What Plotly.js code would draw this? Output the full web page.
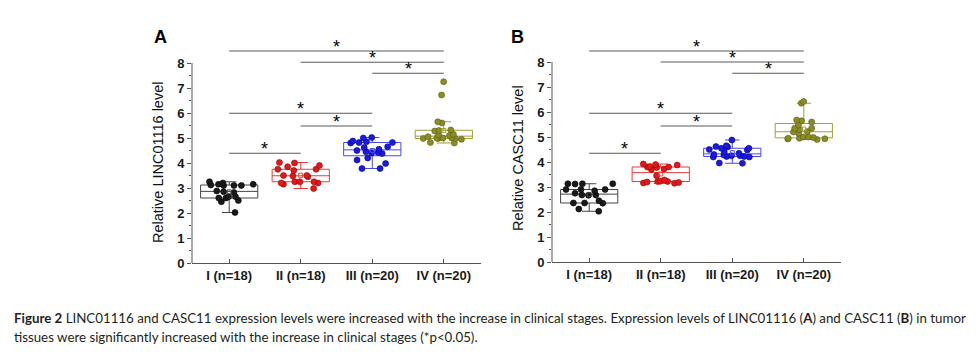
<!DOCTYPE html>
<html>
<head>
<meta charset="utf-8">
<script src="https://cdn.plot.ly/plotly-3.0.1.min.js"></script>
<style>html,body{margin:0;padding:0;background:#fff;}#chart{width:978px;height:355px;}</style>
</head>
<body>
<div id="chart"></div>
<script>
// ---- data ----
const categories = ['I (n=18)', 'II (n=18)', 'III (n=20)', 'IV (n=20)'];

const lincI   = [3.25, 3.12, 3.1, 3.15, 3.1, 3.1, 3.15, 3.2, 2.88, 2.85, 2.82, 2.65, 2.5, 2.6, 2.6, 2.65, 2.45, 2.02];
const lincII  = [4.02, 4.0, 3.9, 3.85, 3.75, 3.7, 3.75, 3.5, 3.45, 3.48, 3.5, 3.25, 3.25, 3.2, 3.2, 3.15, 3.25, 2.98];
const lincIII = [4.85, 4.82, 4.8, 5.0, 5.02, 4.82, 4.88, 4.62, 4.55, 4.65, 4.5, 4.4, 4.38, 4.45, 4.42, 4.2, 4.12, 3.98, 3.78, 3.78];
const lincIV  = [7.25, 6.72, 5.65, 5.6, 5.32, 5.3, 5.28, 5.15, 5.1, 5.05, 5.12, 5.0, 4.98, 5.0, 4.98, 5.0, 4.95, 4.98, 4.82, 4.8];

const cascI   = [3.13, 3.13, 3.12, 3.13, 2.9, 2.9, 2.85, 2.9, 2.75, 2.68, 2.67, 2.68, 2.45, 2.36, 2.35, 2.36, 2.12, 2.03];
const cascII  = [3.9, 3.82, 3.78, 3.7, 3.72, 3.8, 3.8, 3.88, 3.92, 3.45, 3.28, 3.23, 3.2, 3.16, 3.15, 3.18, 3.22, 3.22];
const cascIII = [4.88, 4.62, 4.55, 4.5, 4.48, 4.55, 4.6, 4.65, 4.4, 4.3, 4.25, 4.22, 4.2, 4.2, 4.22, 4.25, 4.28, 4.35, 3.96, 3.95];
const cascIV  = [6.42, 6.35, 5.65, 5.68, 5.6, 5.48, 5.35, 5.3, 5.22, 5.15, 5.2, 5.35, 5.0, 5.0, 4.98, 4.95, 4.92, 4.9, 4.93, 4.95];

const yTickVals = [0, 1, 2, 3, 4, 5, 6, 7, 8];
// significance comparisons (group index pairs), label
const comparisons = [[0, 3], [1, 3], [2, 3], [0, 2], [1, 2], [0, 1]];
const sigLabel = '*';

const captionLine1 = '<b>Figure 2</b> LINC01116 and CASC11 expression levels were increased with the increase in clinical stages. Expression levels of LINC01116 (<b>A</b>) and CASC11 (<b>B</b>) in tumor';
const captionLine2 = 'tissues were significantly increased with the increase in clinical stages (*p&lt;0.05).';

// ---- styles ----
const pointColors = ['#1a1a1a', '#e01a1a', '#1a1ae0', '#8c8c26'];
const pointEdge   = ['#000000', '#a00000', '#0000a0', '#5c5c10'];
const boxColors   = ['#444444', '#e83c3c', '#4848e6', '#a0a03c'];
const bracketH = {A: [8.48, 8.03, 7.59, 5.99, 5.48, 4.39], B: [8.44, 8.0, 7.55, 5.95, 5.44, 4.35]};
const FONT = 'Liberation Sans, Arial, sans-serif';

const traces = [];
const annotations = [];

function mean(a) { return a.reduce((s, v) => s + v, 0) / a.length; }

function addPanel(groups, xa, ya, heights) {
  groups.forEach((vals, i) => {
    traces.push({
      type: 'box', y: vals, name: categories[i], xaxis: xa, yaxis: ya,
      boxpoints: 'all', jitter: 0.95, pointpos: 0, width: 0.8, whiskerwidth: 0.25,
      fillcolor: 'rgba(0,0,0,0)', line: {color: boxColors[i], width: 1},
      marker: {color: pointColors[i], size: 6, line: {color: pointEdge[i], width: 0.6}},
      showlegend: false, hoverinfo: 'y'
    });
    traces.push({
      type: 'scatter', mode: 'markers', x: [categories[i]], y: [mean(vals)], xaxis: xa, yaxis: ya,
      marker: {symbol: 'square-open', size: 4, color: boxColors[i], line: {width: 1}},
      showlegend: false, hoverinfo: 'skip'
    });
  });
  comparisons.forEach((c, k) => {
    const h = heights[k];
    traces.push({
      type: 'scatter', mode: 'lines', x: [categories[c[0]], categories[c[1]]], y: [h, h],
      xaxis: xa, yaxis: ya, line: {color: '#5a5a5a', width: 1.2},
      showlegend: false, hoverinfo: 'skip'
    });
    annotations.push({
      xref: xa, yref: ya, x: (c[0] + c[1]) / 2, y: h, text: sigLabel, showarrow: false,
      yanchor: 'bottom', yshift: -8, font: {family: FONT, size: 18, color: '#000'}
    });
  });
}

addPanel([lincI, lincII, lincIII, lincIV], 'x', 'y', bracketH.A);
addPanel([cascI, cascII, cascIII, cascIV], 'x2', 'y2', bracketH.B);

const tickFont = {family: FONT, size: 13, color: '#1a1a1a', weight: 'bold'};

function xAxis(domain, anchor) {
  return {
    domain: domain, anchor: anchor, type: 'category', categoryorder: 'array', categoryarray: categories,
    range: [-0.52, 3.52], showline: true, linecolor: '#555', linewidth: 1,
    ticks: 'inside', ticklen: 4, tickcolor: '#555', tickfont: tickFont,
    showgrid: false, zeroline: false, fixedrange: true
  };
}
function yAxis(domain, anchor) {
  return {
    domain: domain, anchor: anchor, range: [0, 8.7], showline: false,
    tickmode: 'array', tickvals: yTickVals, ticks: 'outside', ticklen: 4, tickcolor: '#555',
    minor: {tickmode: 'array', tickvals: yTickVals.slice(0, -1).map(v => v + 0.5), ticks: 'outside', ticklen: 2.5, tickcolor: '#555'},
    tickfont: tickFont, showgrid: false, zeroline: false, fixedrange: true
  };
}

const axA = [192 / 978, 481 / 978], axB = [552 / 978, 841 / 978];
const dA = [92 / 355, 309.5 / 355], dB = [93 / 355, 310.5 / 355];

// y axis lines only from 0 to 8
const shapes = [
  {type: 'line', xref: 'paper', yref: 'y', x0: axA[0], x1: axA[0], y0: 0, y1: 8, line: {color: '#555', width: 1}},
  {type: 'line', xref: 'paper', yref: 'y2', x0: axB[0], x1: axB[0], y0: 0, y1: 8, line: {color: '#555', width: 1}}
];

annotations.push(
  {xref: 'paper', yref: 'paper', x: 160 / 978, y: (355 - 37) / 355, text: '<b>A</b>', showarrow: false,
   xanchor: 'center', yanchor: 'middle', font: {family: FONT, size: 18, color: '#000'}},
  {xref: 'paper', yref: 'paper', x: 517 / 978, y: (355 - 37) / 355, text: '<b>B</b>', showarrow: false,
   xanchor: 'center', yanchor: 'middle', font: {family: FONT, size: 18, color: '#000'}},
  {xref: 'paper', yref: 'paper', x: 158 / 978, y: (355 - 163) / 355, text: 'Relative LINC01116 level', textangle: -90,
   showarrow: false, xanchor: 'center', yanchor: 'middle', font: {family: FONT, size: 14.5, color: '#111'}},
  {xref: 'paper', yref: 'paper', x: 518 / 978, y: (355 - 158) / 355, text: 'Relative CASC11 level', textangle: -90,
   showarrow: false, xanchor: 'center', yanchor: 'middle', font: {family: FONT, size: 14.5, color: '#111'}},
  {xref: 'paper', yref: 'paper', x: 12 / 978, y: (355 - 318) / 355, text: captionLine1, showarrow: false,
   xanchor: 'left', yanchor: 'middle', font: {family: 'Lato, sans-serif', size: 13.3, color: '#231f20'}},
  {xref: 'paper', yref: 'paper', x: 12 / 978, y: (355 - 336.5) / 355, text: captionLine2, showarrow: false,
   xanchor: 'left', yanchor: 'middle', font: {family: 'Lato, sans-serif', size: 13.3, color: '#231f20'}}
);

const layout = {
  width: 978, height: 355, margin: {l: 0, r: 0, t: 0, b: 0},
  paper_bgcolor: '#fff', plot_bgcolor: '#fff', showlegend: false,
  xaxis: xAxis(axA, 'y'), yaxis: yAxis(dA, 'x'),
  xaxis2: xAxis(axB, 'y2'), yaxis2: yAxis(dB, 'x2'),
  shapes: shapes, annotations: annotations
};

Plotly.newPlot('chart', traces, layout, {staticPlot: true, displayModeBar: false});
</script>
</body>
</html>
